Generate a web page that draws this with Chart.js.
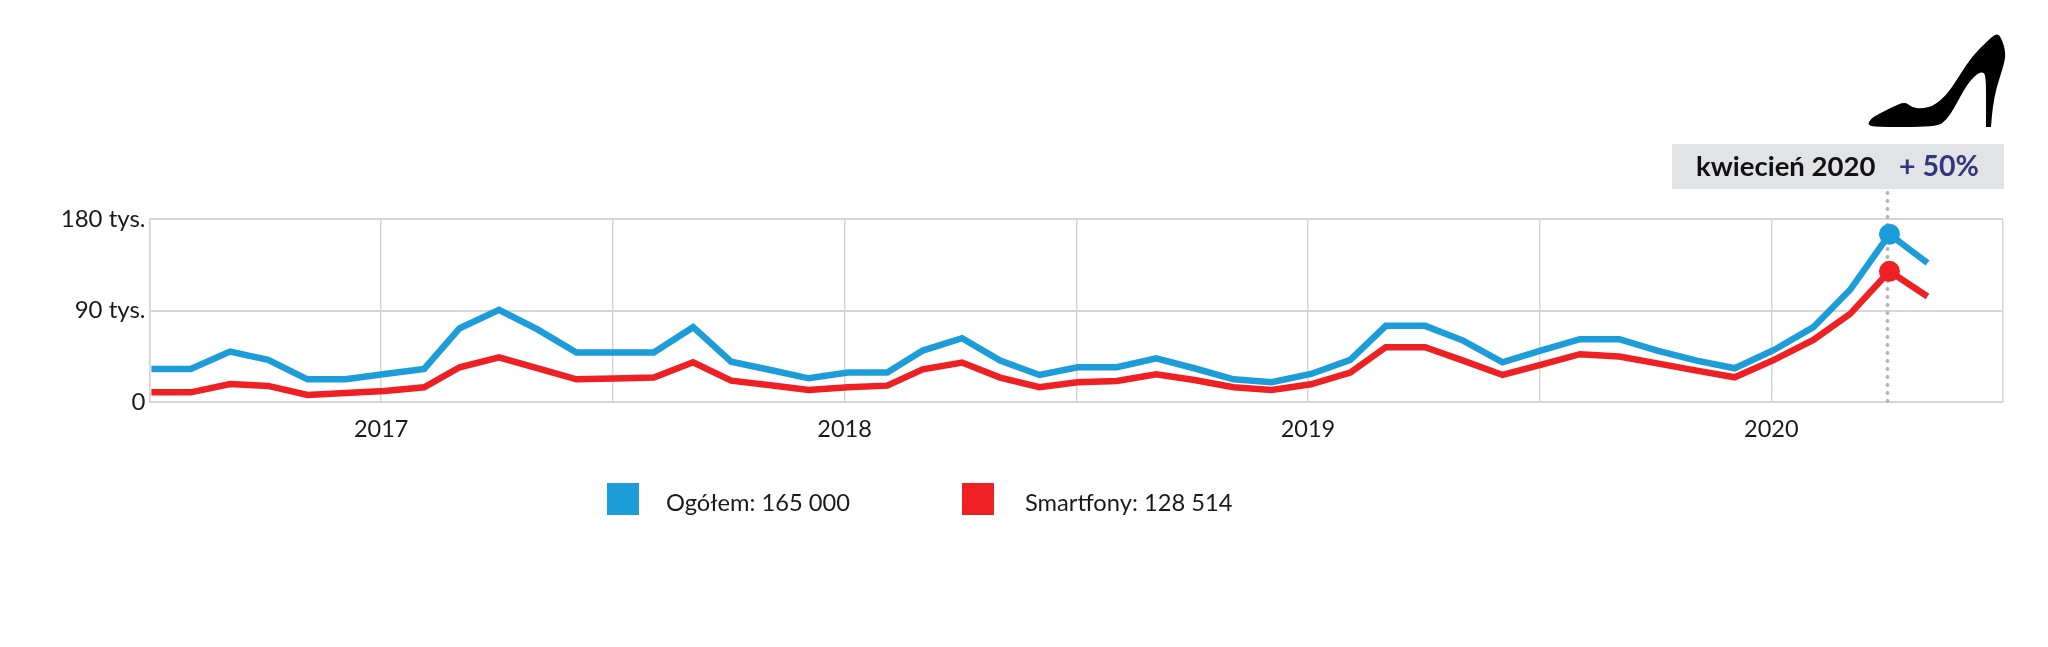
<!DOCTYPE html>
<html lang="pl"><head><meta charset="utf-8">
<style>html,body{margin:0;padding:0;background:#fff;width:2048px;height:647px;overflow:hidden}canvas{display:block}</style>
<script src="https://cdn.jsdelivr.net/npm/chart.js@4"></script>
</head><body>
<canvas id="c" width="2048" height="647"></canvas>
<script>
const months = ["2016-07","2016-08","2016-09","2016-10","2016-11","2016-12",
"2017-01","2017-02","2017-03","2017-04","2017-05","2017-06","2017-07","2017-08","2017-09","2017-10","2017-11","2017-12",
"2018-01","2018-02","2018-03","2018-04","2018-05","2018-06","2018-07","2018-08","2018-09","2018-10","2018-11","2018-12",
"2019-01","2019-02","2019-03","2019-04","2019-05","2019-06","2019-07","2019-08","2019-09","2019-10","2019-11","2019-12",
"2020-01","2020-02","2020-03","2020-04","2020-05"];
const ogolem = [32500,32500,49600,41400,22300,22300,27600,32500,72600,90700,71600,48600,48600,48600,73600,39700,31500,23300,
28900,28900,50600,62700,40700,26600,34200,34200,43000,33200,22300,19400,27600,41400,74900,74900,60400,39100,50600,61800,61800,50600,40700,33200,51200,73600,110400,165000,136700];
const smartfony = [9500,9500,17700,15800,6900,8900,10800,14500,34200,44000,33200,22300,23000,24000,39100,21000,16400,11800,
14500,16100,32200,38800,24000,14500,19400,20700,27300,21700,14500,11800,17400,28900,53900,53900,40700,26600,36500,47000,44700,38000,30900,24300,41400,61100,86700,128514,103800];
const xTickLabels = ["","2017","","2018","","2019","","2020",""];
const yTicks = [0,90000,180000];
const yTickLabels = ["0","90 tys.","180 tys."];
const seriesNames = ["Ogółem: 165 000","Smartfony: 128 514"];
const seriesColors = ["#1c9cd9","#ee2024"];
const highlightMonth = "2020-04";
const calloutDate = "kwiecień 2020";
const calloutChange = "+ 50%";
const FONT = "Lato, 'Open Sans', sans-serif";

const toX = (m,day=1) => { const [y,mm] = m.split("-").map(Number); return Date.UTC(y,mm-1,1)+(day-1)*864e5; };
const xMin = toX("2016-07"), xMax = toX("2020-07");
const xTicks = xTickLabels.map((_,i)=>xMin+i*(xMax-xMin)/(xTickLabels.length-1));
const hiIdx = months.indexOf(highlightMonth);
const toPts = arr => arr.map((v,i)=>({x:toX(months[i],2.5),y:v}));

const overlay = {
  id:'overlay',
  afterDatasetsDraw(chart){
    const {ctx,scales:{x,y}} = chart;
    const px = x.getPixelForValue(toX(highlightMonth));
    ctx.save();
    ctx.strokeStyle="#b4b4b4";ctx.lineWidth=4;ctx.lineCap="round";ctx.setLineDash([0,8]);
    ctx.beginPath();ctx.moveTo(px,193);ctx.lineTo(px,y.bottom);ctx.stroke();
    ctx.setLineDash([]);
    chart.data.datasets.forEach((d,i)=>{
      const p = chart.getDatasetMeta(i).data[hiIdx];
      ctx.fillStyle=d.borderColor;ctx.beginPath();ctx.arc(p.x,p.y,10.5,0,Math.PI*2);ctx.fill();
    });
    ctx.fillStyle="#e2e3e5";ctx.fillRect(1672,144,332,45);
    ctx.textBaseline="alphabetic";ctx.textAlign="left";
    ctx.font="bold 27.5px "+FONT;ctx.fillStyle="#111";ctx.fillText(calloutDate,1696,176);
    ctx.font="bold 28.5px "+FONT;ctx.fillStyle="#32357f";ctx.fillText(calloutChange,1899,176);
    ctx.fillStyle="#000";
    const P=q=>[1700+q[0]/3,q[1]/3];
    const s = new Path2D();
    const top=[[505,372],[510,358],[530,345],[575,322],[615,305],[635,322],[665,326],[700,318],[740,285],[780,225],[815,170],[860,125],[890,98],[905,115],[918,160],[910,200],[890,260],[878,320],[873,381]];
    const inner=[[858,381],[858,320],[858,240],[852,215],[830,222],[800,255],[765,320],[740,360],[710,381],[515,381],[505,372]];
    const curve=(list)=>{
      for(let i=0;i<list.length-1;i++){
        const a=P(list[i]),b=P(list[i+1]);
        s.quadraticCurveTo(a[0],a[1],(a[0]+b[0])/2,(a[1]+b[1])/2);
      }
      const e=P(list[list.length-1]);s.lineTo(e[0],e[1]);
    };
    const st=P(top[0]);s.moveTo(st[0],st[1]);
    curve(top);
    const inSt=P(inner[0]);s.lineTo(inSt[0],inSt[1]);
    curve(inner);
    s.closePath();ctx.fill(s);
    const lx=[607,962],tx=[666,1025];
    ctx.font="23.7px "+FONT;ctx.textBaseline="middle";
    seriesNames.forEach((n,i)=>{
      ctx.fillStyle=seriesColors[i];ctx.fillRect(lx[i],483,32,32);
      ctx.fillStyle="#1a1a1a";ctx.fillText(n,tx[i],503);
    });
    ctx.restore();
  }
};

new Chart(document.getElementById('c'),{
  type:'line',
  plugins:[overlay],
  data:{datasets:[
    {label:seriesNames[0],data:toPts(ogolem),borderColor:seriesColors[0],backgroundColor:seriesColors[0],borderWidth:6.5,tension:0,pointRadius:0,fill:false},
    {label:seriesNames[1],data:toPts(smartfony),borderColor:seriesColors[1],backgroundColor:seriesColors[1],borderWidth:6.5,tension:0,pointRadius:0,fill:false}
  ]},
  options:{
    responsive:false,animation:false,devicePixelRatio:1,
    layout:{padding:{top:219,right:45,left:0,bottom:0}},
    plugins:{legend:{display:false},tooltip:{enabled:false}},
    scales:{
      x:{type:'linear',min:xMin,max:xMax,
        afterBuildTicks(s){s.ticks=xTicks.map(v=>({value:v}));},
        afterFit(s){s.height=245;},
        grid:{color:"#d6d6d6",lineWidth:1.5,drawTicks:false},
        border:{color:"#d6d6d6",width:2},
        ticks:{autoSkip:false,maxRotation:0,padding:13,color:"#1a1a1a",font:{family:FONT,size:23.5},
          callback(v){return xTickLabels[xTicks.indexOf(v)];}}
      },
      y:{min:0,max:180000,
        afterBuildTicks(s){s.ticks=yTicks.map(v=>({value:v}));},
        afterFit(s){s.width=149.5;},
        grid:{color:"#d6d6d6",lineWidth:2,drawTicks:false},
        border:{color:"#d6d6d6",width:1.5},
        ticks:{autoSkip:false,padding:4,color:"#1a1a1a",font:{family:FONT,size:24},
          callback(v){return yTickLabels[yTicks.indexOf(v)];}}
      }
    }
  }
});
</script></body></html>
